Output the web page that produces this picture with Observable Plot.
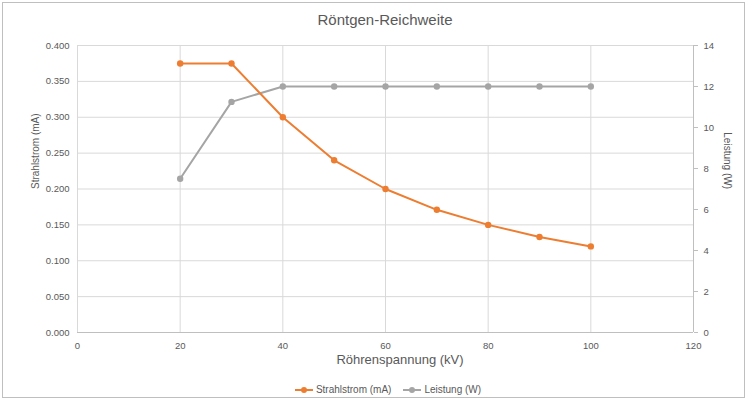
<!DOCTYPE html>
<html>
<head>
<meta charset="utf-8">
<script src="https://cdn.jsdelivr.net/npm/d3@7"></script>
<script src="https://cdn.jsdelivr.net/npm/@observablehq/plot@0.6"></script>
<style>
  html, body { margin: 0; padding: 0; background: #fff; }
  #wrap { position: relative; width: 750px; height: 404px; font-family: "Liberation Sans", Arial, sans-serif; color: #595959; }
  #frame { position: absolute; left: 2px; top: 2px; width: 743px; height: 396px; border: 1px solid #bfbfbf; box-sizing: border-box; pointer-events: none; }
  #title { position: absolute; left: 0; width: 770px; top: 11px; text-align: center; font-size: 15px; }
  #xlabel { position: absolute; left: 0; width: 800px; top: 352px; text-align: center; font-size: 13px; }
  #legend { position: absolute; left: 0; width: 776px; top: 384px; text-align: center; font-size: 10px; }
  .sw { display: inline-block; position: relative; width: 18px; height: 10px; vertical-align: middle; margin-right: 3px; }
  .sw::before { content: ""; position: absolute; left: 0; right: 0; top: 4px; height: 2px; background: var(--c); }
  .sw::after { content: ""; position: absolute; left: 6px; top: 2px; width: 6px; height: 6px; border-radius: 50%; background: var(--c); }
  .item { display: inline-block; margin: 0 6px; }
  svg { position: absolute; left: 0; top: 0; }
</style>
</head>
<body>
<div id="wrap">
  <div id="title">Röntgen-Reichweite</div>
  <div id="xlabel">Röhrenspannung (kV)</div>
  <div id="legend"></div>
  <div id="frame"></div>
</div>
<script>
const voltage = [20, 30, 40, 50, 60, 70, 80, 90, 100];
const strahlstrom = [0.375, 0.375, 0.300, 0.240, 0.200, 0.171, 0.150, 0.133, 0.120];
const leistung = [7.5, 11.25, 12, 12, 12, 12, 12, 12, 12];
const leftTicks = [0, 0.05, 0.1, 0.15, 0.2, 0.25, 0.3, 0.35, 0.4];
const rightTicks = [0, 2, 4, 6, 8, 10, 12, 14];
const xTicks = [0, 20, 40, 60, 80, 100, 120];
const seriesNames = ["Strahlstrom (mA)", "Leistung (W)"];
const colors = ["#ED7D31", "#A5A5A5"];

const yMax = 0.4, y2Max = 14;
const toY = v => v * yMax / y2Max;

const s1 = voltage.map((x, i) => ({x, y: strahlstrom[i]}));
const s2 = voltage.map((x, i) => ({x, y: toY(leistung[i])}));

const grid = "#d9d9d9";
const textColor = "#595959";

const chart = Plot.plot({
  width: 750,
  height: 404,
  marginLeft: 77,
  marginRight: 57,
  marginTop: 45,
  marginBottom: 72,
  style: { fontFamily: "Liberation Sans, Arial, sans-serif", fontSize: "9.5px", color: textColor, background: "transparent" },
  x: { domain: [0, 120] },
  y: { domain: [0, yMax] },
  marks: [
    Plot.gridX(xTicks.filter(d => d > 0 && d < 120), { stroke: grid, strokeOpacity: 1 }),
    Plot.gridY(leftTicks.filter(d => d > 0), { stroke: grid, strokeOpacity: 1 }),
    Plot.ruleX([0], { stroke: grid }),
    Plot.ruleY([0], { stroke: "#bfbfbf" }),
    Plot.ruleX([120], { stroke: "#bfbfbf" }),
    Plot.axisX(xTicks, { tickSize: 0, tickPadding: 10, label: null, fill: textColor }),
    Plot.axisY(leftTicks, { tickSize: 0, tickPadding: 8, tickFormat: d3.format(".3f"), label: null, fill: textColor }),
    Plot.axisY(rightTicks.map(toY), { anchor: "right", tickSize: 4, stroke: "#bfbfbf", tickPadding: 6, tickFormat: d => Math.round(d * y2Max / yMax), label: null, fill: textColor }),
    Plot.text(["Strahlstrom (mA)"], { frameAnchor: "left", dx: -42, rotate: -90, fill: textColor, fontSize: 10 }),
    Plot.text(["Leistung (W)"], { frameAnchor: "right", dx: 34, rotate: 90, fill: textColor, fontSize: 10 }),
    Plot.line(s2, { x: "x", y: "y", stroke: colors[1], strokeWidth: 2 }),
    Plot.dot(s2, { x: "x", y: "y", fill: colors[1], r: 3.2 }),
    Plot.line(s1, { x: "x", y: "y", stroke: colors[0], strokeWidth: 2 }),
    Plot.dot(s1, { x: "x", y: "y", fill: colors[0], r: 3.2 })
  ]
});
document.getElementById("wrap").insertBefore(chart, document.getElementById("title"));

const legend = document.getElementById("legend");
seriesNames.forEach((n, i) => {
  const it = document.createElement("span");
  it.className = "item";
  it.innerHTML = `<span class="sw" style="--c:${colors[i]}"></span>${n}`;
  legend.appendChild(it);
});
</script>
</body>
</html>
